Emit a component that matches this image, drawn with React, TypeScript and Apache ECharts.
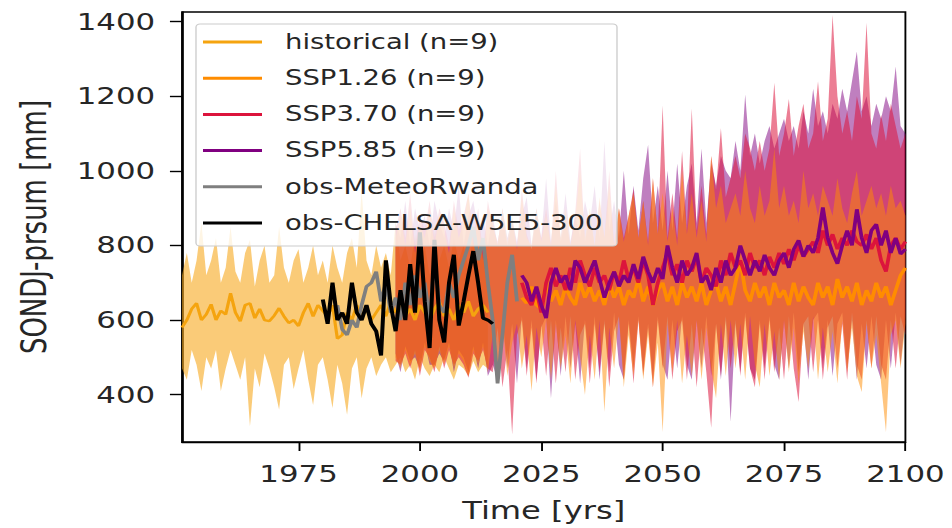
import React, { useEffect, useRef } from "react";
import * as echarts from "echarts";

// ---------- data ----------
const FIRST_YEAR = 1951;
const LAST_YEAR = 2100;
const HIST_START = 1951;
const SSP_BAND_START = 1995;
const SSP_LINE_START = 2021;
const OBS_CHELSA_START = 1980;
const OBS_METEO_START = 1983;

const yTicks = [400, 600, 800, 1000, 1200, 1400];
const xTicks = [1975, 2000, 2025, 2050, 2075, 2100];

const histMean = [
  580, 600, 630, 645, 600, 615, 642, 600, 625, 615,
  672, 620, 597, 640, 645, 605, 630, 600, 597, 612,
  632, 610, 592, 600, 584, 620, 645, 610, 640, 625,
  610, 640, 550, 560, 620, 600, 640, 610, 630, 600,
  620, 640, 610, 650, 620, 640, 610, 630, 600, 640,
  620, 600, 630, 650, 610, 630, 600, 640, 620, 650,
  610, 630, 640, 620,
];
const histUpper = [
  720, 780, 700, 760, 860, 720, 760, 820, 700, 740,
  850, 730, 700, 780, 815, 690, 760, 800, 700, 720,
  850, 740, 700, 760, 790, 700, 740, 800, 720, 760,
  700, 800, 740, 700, 780, 820, 740, 950, 760, 720,
  800, 740, 780, 720, 865, 760, 800, 740, 830, 760,
  800, 720, 840, 760, 800, 740, 820, 760, 800, 740,
  830, 780, 800, 760,
];
const histLower = [
  470, 440, 520, 480, 410, 500, 470, 520, 410, 470,
  520, 480, 440, 500, 315, 470, 420, 510, 470, 420,
  360, 480, 500, 415, 470, 520, 440, 372, 480, 500,
  440, 364, 480, 430, 346, 470, 500, 390, 470, 500,
  450, 480, 500, 460, 480, 500, 460, 480, 440, 500,
  470, 450, 480, 460, 500, 470, 440, 480, 470, 450,
  490, 460, 480, 470,
];

const ssp126Upper = [
  820, 880, 800, 900, 780, 860, 820, 900, 800, 880,
  840, 780, 900, 820, 860, 940, 800, 880, 760, 900,
  860, 800, 900, 810, 880, 790, 930, 820, 800, 900,
  810, 880, 800, 960, 820, 900, 800, 870, 1000, 820,
  900, 800, 930, 820, 960, 800, 900, 810, 880, 940,
  820, 920, 800, 980, 830, 940, 810, 900, 800, 1000,
  830, 940, 820, 920, 810, 1040, 900, 960, 860, 900,
  940, 880, 1000, 900, 860, 960, 880, 920, 1060, 900,
  960, 880, 920, 860, 1000, 900, 940, 880, 960, 920,
  880, 980, 900, 860, 940, 1000, 880, 920, 960, 900,
  940, 880, 960, 900, 920, 880,
];
const ssp126Lower = [
  500, 470, 520, 480, 510, 460, 530, 490, 470, 520,
  480, 530, 470, 510, 490, 450, 520, 480, 530, 460,
  560, 460, 600, 450, 540, 590, 470, 560, 410, 580,
  500, 600, 440, 590, 470, 560, 430, 600, 500, 400,
  560, 440, 600, 354, 580, 470, 610, 420, 560, 450,
  600, 440, 560, 420, 540, 300, 590, 460, 600, 430,
  560, 450, 600, 440, 580, 470, 390, 590, 450, 600,
  470, 590, 440, 610, 480, 420, 590, 450, 570, 440,
  600, 460, 580, 430, 570, 470, 610, 440, 580, 460,
  570, 430, 600, 460, 580, 450, 407, 590, 470, 560,
  430, 300, 560, 600, 470, 590,
];
const ssp370Upper = [
  840, 900, 820, 940, 800, 880, 840, 920, 820, 900,
  860, 800, 920, 840, 880, 940, 820, 900, 780, 920,
  850, 810, 880, 800, 860, 800, 950, 830, 790, 880,
  820, 900, 800, 1000, 810, 870, 800, 890, 1060, 810,
  880, 800, 920, 820, 1000, 800, 900, 820, 880, 950,
  820, 920, 810, 980, 830, 1175, 820, 940, 820, 1053,
  840, 1167, 840, 960, 830, 1040, 950, 1114, 930, 980,
  1040, 980, 1100, 1060, 1000, 1080, 1000, 1060, 1236, 1040,
  1100, 1193, 1040, 1120, 1180, 1060, 1100, 1240, 1080, 1140,
  1418, 1200, 1100, 1160, 1080, 1200, 1140, 1397, 1100, 1060,
  1150, 1080, 1180, 1120, 1060, 1100,
];
const ssp370Lower = [
  490, 480, 510, 470, 520, 450, 520, 500, 460, 530,
  470, 520, 480, 500, 480, 445, 510, 490, 520, 470,
  460, 580, 420, 520, 293, 560, 600, 450, 580, 430,
  590, 450, 600, 430, 580, 460, 610, 440, 560, 590,
  430, 590, 460, 600, 420, 570, 610, 440, 590, 430,
  600, 450, 580, 420, 600, 470, 610, 440, 570, 600,
  440, 590, 420, 580, 460, 311, 590, 450, 610, 470,
  600, 450, 610, 470, 420, 590, 440, 600, 460, 580,
  440, 610, 470, 380, 590, 610, 460, 600, 440, 580,
  610, 470, 590, 440, 620, 480, 440, 600, 470, 610,
  480, 440, 600, 470, 610, 560,
];
const ssp585Upper = [
  860, 820, 920, 800, 900, 840, 880, 800, 920, 860,
  820, 900, 840, 960, 800, 880, 920, 840, 880, 800,
  880, 800, 900, 820, 870, 810, 880, 930, 800, 900,
  820, 980, 810, 920, 820, 940, 810, 880, 820, 920,
  860, 960, 820, 1080, 840, 920, 820, 1000, 830, 960,
  840, 980, 1070, 860, 960, 840, 1000, 840, 1020, 860,
  960, 1020, 860, 1060, 860, 1020, 960, 1040, 1000, 980,
  1080, 1000, 1205, 1040, 1100, 1020, 1080, 1120, 1060, 1100,
  1140, 1080, 1120, 1060, 1160, 1100, 1220, 1120, 1160, 1100,
  1180, 1140, 1220, 1160, 1240, 1320, 1160, 1200, 1120, 1180,
  1140, 1200, 1160, 1280, 1120, 1100,
];
const ssp585Lower = [
  510, 460, 530, 490, 500, 470, 540, 480, 480, 510,
  490, 540, 460, 520, 500, 460, 530, 470, 540, 450,
  480, 440, 610, 470, 590, 430, 610, 470, 600, 440,
  580, 610, 390, 600, 450, 610, 470, 590, 430, 600,
  470, 610, 440, 590, 460, 620, 480, 440, 600, 470,
  610, 460, 590, 440, 610, 480, 440, 600, 470, 610,
  480, 440, 600, 470, 610, 450, 590, 440, 600, 327,
  590, 460, 620, 470, 440, 600, 470, 610, 480, 440,
  600, 470, 620, 460, 590, 440, 600, 620, 470, 600,
  450, 590, 620, 470, 600, 440, 590, 470, 610, 480,
  440, 600, 470, 620, 480, 610,
];

const ssp126Mean = [
  660, 645, 690, 640, 630, 700, 650, 680, 640, 690,
  660, 640, 700, 660, 690, 650, 680, 640, 700, 660,
  690, 640, 680, 660, 710, 650, 690, 640, 680, 700,
  650, 690, 640, 700, 660, 690, 650, 700, 640, 680,
  700, 650, 690, 640, 700, 760, 680, 650, 700, 660,
  690, 640, 700, 660, 680, 640, 700, 650, 690, 660,
  640, 700, 660, 690, 640, 710, 660, 690, 650, 700,
  640, 680, 650, 700, 660, 690, 640, 680, 720, 740,
];
const ssp370Mean = [
  700, 660, 640, 680, 620, 700, 740, 690, 720, 680,
  740, 700, 760, 720, 690, 740, 700, 720, 680, 730,
  700, 760, 710, 740, 700, 760, 720, 640, 700, 740,
  780, 720, 750, 700, 760, 730, 770, 700, 740, 720,
  690, 760, 720, 780, 740, 760, 720, 780, 740, 760,
  720, 770, 740, 780, 750, 790, 760, 800, 770, 790,
  810, 780, 840, 800, 830, 790, 820, 800, 840, 810,
  800, 830, 790, 820, 760, 730, 800, 820, 790, 810,
];
const ssp585Mean = [
  720, 700, 650, 690, 640, 605, 700, 740, 700, 720,
  680, 760, 740, 700, 730, 760, 710, 660, 700, 730,
  690, 720, 700, 750, 710, 770, 730, 700, 740, 710,
  800, 740, 700, 760, 720, 740, 780, 700, 720, 680,
  740, 700, 760, 720, 740, 800, 760, 720, 760, 730,
  775, 740, 720, 760, 780, 740, 790, 814, 770, 800,
  780, 820, 902, 820, 780, 751, 800, 840, 800, 897,
  820, 780, 840, 857, 800, 840, 780, 820, 777, 790,
];

const obsChelsa = [
  655, 590, 700, 600, 620, 590, 700, 620, 600, 640,
  590, 570, 505, 760, 640, 570, 680, 600, 750, 620,
  835, 650, 525, 815, 600, 540, 700, 775, 585, 650,
  720, 785, 700, 605, 600, 590,
];
const obsMeteo = [
  640, 575, 560, 600, 580, 640, 690, 700, 730, 650,
  700, 620, 660, 600, 700, 640, 720, 660, 700, 600,
  760, 640, 620, 700, 660, 720, 760, 800, 850, 760,
  820, 700, 600, 430, 560, 700, 775, 650,
];

const legendNames = [
  "historical (n=9)",
  "SSP1.26 (n=9)",
  "SSP3.70 (n=9)",
  "SSP5.85 (n=9)",
  "obs-MeteoRwanda",
  "obs-CHELSA-W5E5-300",
];

// ---------- layout (the reference picture is stretched horizontally) ----------
const SX = 1.34;
const OUT_W = 952;
const OUT_H = 528;
const IN_W = OUT_W / SX;
const ix = (px: number) => px / SX;

// ---------- helpers ----------
const years: string[] = [];
for (let y = FIRST_YEAR; y <= LAST_YEAR; y++) years.push(String(y));

const pad = (start: number, vals: (number | null)[]) =>
  years.map((_, i) => {
    const k = i - (start - FIRST_YEAR);
    return k >= 0 && k < vals.length ? vals[k] : null;
  });
const padDiff = (start: number, lo: number[], hi: number[]) =>
  pad(start, lo.map((v, i) => hi[i] - v));

function band(id: string, start: number, lo: number[], hi: number[], color: string, opacity: number) {
  return [
    {
      name: id + "-lo",
      type: "line",
      stack: id,
      data: pad(start, lo),
      symbol: "none",
      lineStyle: { width: 0, opacity: 0 },
      silent: true,
      z: 1,
    },
    {
      name: id + "-hi",
      type: "line",
      stack: id,
      data: padDiff(start, lo, hi),
      symbol: "none",
      lineStyle: { width: 0, opacity: 0 },
      areaStyle: { color, opacity },
      silent: true,
      z: 1,
    },
  ];
}

function line(name: string, start: number, vals: number[], color: string, width: number, z: number) {
  return {
    name,
    type: "line",
    data: pad(start, vals),
    symbol: "none",
    itemStyle: { color },
    lineStyle: { color, width },
    z,
  };
}

const FONT = "DejaVu Sans";
const TXT = "#262626";
const isTick = (_: number, v: string) => xTicks.includes(Number(v));

export default function App() {
  const ref = useRef<HTMLDivElement>(null);
  useEffect(() => {
    if (!ref.current) return;
    const chart = echarts.init(ref.current, null, { renderer: "svg" });
    const option: any = {
      animation: false,
      grid: {
        left: ix(182),
        right: IN_W - ix(906),
        top: 12,
        bottom: 80,
        show: true,
        borderColor: "#000",
        borderWidth: 1.4,
        backgroundColor: "transparent",
      },
      xAxis: {
        type: "category",
        data: years,
        boundaryGap: false,
        name: "Time [yrs]",
        nameLocation: "middle",
        nameGap: 57,
        nameTextStyle: { fontFamily: FONT, fontSize: 24, color: TXT },
        axisLine: { show: true, onZero: false, lineStyle: { color: "#000", width: 1.4 } },
        axisTick: { show: true, length: 9, interval: isTick, lineStyle: { color: "#000", width: 1.4 } },
        axisLabel: { interval: isTick, fontFamily: FONT, fontSize: 23, color: TXT, margin: 20 },
        splitLine: { show: false },
      },
      yAxis: {
        type: "value",
        min: 273,
        max: 1426,
        name: "SONDJ-prsum [mm]",
        nameLocation: "middle",
        nameGap: 98,
        nameTextStyle: { fontFamily: FONT, fontSize: 26, color: TXT },
        axisLine: { show: true, onZero: false, lineStyle: { color: "#000", width: 1.4 } },
        axisTick: { show: true, length: 9, customValues: yTicks, lineStyle: { color: "#000", width: 1.4 } },
        axisLabel: {
          customValues: yTicks,
          formatter: (v: number) => String(v),
          fontFamily: FONT,
          fontSize: 23,
          color: TXT,
          margin: 20,
        },
        splitLine: { show: false },
      },
      legend: {
        orient: "vertical",
        left: ix(203),
        top: 30,
        padding: 0,
        itemWidth: ix(262) - ix(203),
        itemHeight: 3,
        itemGap: 12.2,
        icon: "rect",
        selectedMode: false,
        z: 20,
        data: legendNames,
        textStyle: {
          fontFamily: FONT,
          fontSize: 20.5,
          color: TXT,
          lineHeight: 24,
          padding: [0, 0, 0, ix(285) - ix(262) - 5],
        },
      },
      graphic: [
        {
          type: "rect",
          shape: { x: ix(196), y: 24, width: ix(617) - ix(196), height: 222, r: 3 },
          style: { fill: "rgba(255,255,255,0.8)", stroke: "#cccccc", lineWidth: 1 },
          z: 10,
          silent: true,
        },
      ],
      series: [
        ...band("hist", HIST_START, histLower, histUpper, "#f7a81e", 0.6),
        ...band("s585", SSP_BAND_START, ssp585Lower, ssp585Upper, "#800080", 0.5),
        ...band("s370", SSP_BAND_START, ssp370Lower, ssp370Upper, "#dc143c", 0.55),
        ...band("s126", SSP_BAND_START, ssp126Lower, ssp126Upper, "#ff8c00", 0.5),
        line(legendNames[0], HIST_START, histMean, "#f5a40f", 2.4, 3),
        line(legendNames[1], SSP_LINE_START, ssp126Mean, "#ff8c00", 2.8, 3),
        line(legendNames[2], SSP_LINE_START, ssp370Mean, "#dc143c", 2.8, 3),
        line(legendNames[3], SSP_LINE_START, ssp585Mean, "#800080", 2.8, 3),
        line(legendNames[4], OBS_METEO_START, obsMeteo, "#7f7f7f", 2.8, 4),
        line(legendNames[5], OBS_CHELSA_START, obsChelsa, "#000000", 3, 4),
      ],
    };
    chart.setOption(option);
    return () => chart.dispose();
  }, []);
  return (
    <div
      style={{
        position: "fixed",
        left: 0,
        top: 0,
        width: OUT_W,
        height: OUT_H,
        overflow: "hidden",
        background: "#fff",
      }}
    >
      <div
        ref={ref}
        style={{
          width: IN_W,
          height: OUT_H,
          transform: `scaleX(${SX})`,
          transformOrigin: "0 0",
        }}
      />
    </div>
  );
}
